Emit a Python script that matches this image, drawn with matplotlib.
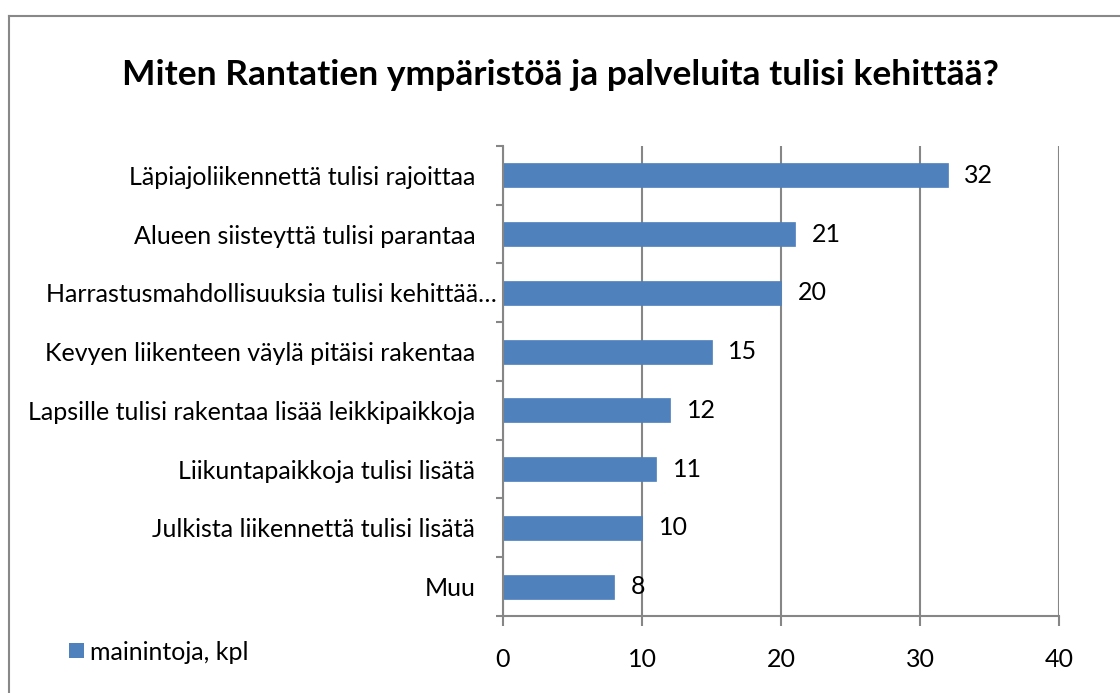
import matplotlib
matplotlib.use("Agg")
import matplotlib.pyplot as plt
from matplotlib.lines import Line2D
from matplotlib.patches import Rectangle
from matplotlib.transforms import ScaledTranslation

categories = [
    "Läpiajoliikennettä tulisi rajoittaa",
    "Alueen siisteyttä tulisi parantaa",
    "Harrastusmahdollisuuksia tulisi kehittää…",
    "Kevyen liikenteen väylä pitäisi rakentaa",
    "Lapsille tulisi rakentaa lisää leikkipaikkoja",
    "Liikuntapaikkoja tulisi lisätä",
    "Julkista liikennettä tulisi lisätä",
    "Muu",
]
values = [32, 21, 20, 15, 12, 11, 10, 8]
xticks = [0, 10, 20, 30, 40]
title = "Miten Rantatien ympäristöä ja palveluita tulisi kehittää?"
series_name = "mainintoja, kpl"

plt.rcParams['font.family'] = ['Lato', 'DejaVu Sans']

W, H = 1120, 693
fig = plt.figure(figsize=(W / 100, H / 100), dpi=100)
fig.patch.set_facecolor('white')

# frame (only left and top visible)
grey = '#888888'
fig.add_artist(Line2D([9 / W, 9 / W], [0, 1 - 16 / H], transform=fig.transFigure,
                      color=grey, lw=1.5))
fig.add_artist(Line2D([9 / W, 1], [1 - 16 / H, 1 - 16 / H], transform=fig.transFigure,
                      color=grey, lw=1.5))

left, right, top, bottom = 503, 1059, 146, 616
ax = fig.add_axes([left / W, 1 - bottom / H, (right - left) / W, (bottom - top) / H])

n = len(categories)
ypos = list(range(n))
ax.barh(ypos, values, height=0.41, color='#4F81BD', edgecolor='#4F81BD',
        linewidth=0.5, zorder=3)
ax.set_ylim(n - 0.5, -0.5)
ax.set_xlim(0, 40)
ax.set_xticks(xticks)
ax.set_xticklabels([str(t) for t in xticks], fontsize=18)
ax.tick_params(axis='x', length=7, width=1.5, color='#868686', pad=16)

# y ticks at boundaries, labels at centers
ax.set_yticks([i - 0.5 for i in range(n + 1)])
ax.set_yticklabels([])
ax.set_yticks(ypos, minor=True)
ylabels = ax.set_yticklabels(categories, minor=True, fontsize=18)
ax.tick_params(axis='y', which='major', length=5, width=1.5, color='#868686')
ax.tick_params(axis='y', which='minor', length=0, pad=20)
# truncated label sits closer to the axis
for lab in ax.get_yticklabels(minor=True):
    if lab.get_text().endswith('…'):
        lab.set_transform(lab.get_transform() + ScaledTranslation(0.22, 0, fig.dpi_scale_trans))

ax.grid(axis='x', color='#868686', lw=1.5, zorder=0)
for s in ['top', 'right']:
    ax.spines[s].set_visible(False)
for s in ['left', 'bottom']:
    ax.spines[s].set_color('#868686')
    ax.spines[s].set_linewidth(1.5)
    ax.spines[s].set_zorder(4)

for yi, v in zip(ypos, values):
    ax.annotate(str(v), (v, yi), xytext=(12, 0), textcoords='offset points',
                va='center', ha='left', fontsize=18, zorder=5)

fig.text(560 / W, 1 - 75 / H, title, ha='center', va='center', fontsize=25.5,
         fontweight='bold')

# legend
fig.add_artist(Rectangle((69 / W, 1 - 658 / H), 15 / W, 15 / H, transform=fig.transFigure,
                         facecolor='#4F81BD', edgecolor='none'))
fig.text(90 / W, 1 - 652 / H, series_name, ha='left', va='center', fontsize=18)

fig.savefig('out.png', dpi=100)
